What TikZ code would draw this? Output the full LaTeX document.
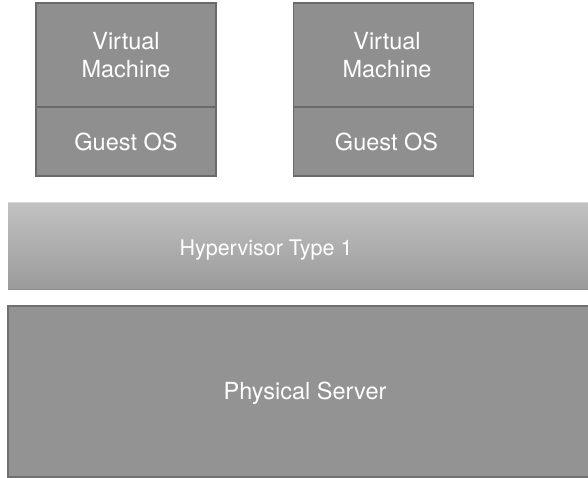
\documentclass[tikz,border=0pt]{standalone}
\usepackage{fontspec}
\setmainfont{TeX Gyre Heros}
\begin{document}
\begin{tikzpicture}[x=1pt,y=-1pt,
  vmpart/.style={draw=vmedge,line width=1.4pt,fill=vmfill,minimum width=180pt,inner sep=0pt,
    text=white,align=center,font=\fontsize{23.5}{28}\selectfont},
  layertext/.style={text=white,inner sep=0pt,font=\fontsize{23.5}{28}\selectfont},
]
\definecolor{vmfill}{HTML}{8F8F8F}
\definecolor{vmedge}{HTML}{6A6A6A}
\definecolor{hvtop}{HTML}{C1C1C1}
\definecolor{hvbot}{HTML}{9B9B9B}
\definecolor{srvfill}{HTML}{939393}
\definecolor{srvedge}{HTML}{707070}
\useasboundingbox[fill=white] (0,0) rectangle (588,478);

% first virtual machine
\node[vmpart,minimum height=104pt] (vm1) at (126,55) {Virtual\\Machine};
\node[vmpart,minimum height=69pt] (os1) at (126,141.5) {Guest OS};

% second virtual machine
\node[vmpart,minimum height=104pt] (vm2) at (383.5,55) {\hspace*{7pt}Virtual\\\hspace*{7pt}Machine};
\node[vmpart,minimum height=69pt] (os2) at (383.5,141.5) {\hspace*{6pt}Guest OS};

% hypervisor layer
\node[draw=none,top color=hvtop,bottom color=hvbot,minimum width=580pt,minimum height=86pt,inner sep=0pt]
  (hv) at (298,246) {};
\draw[white!85!black,line width=1pt] (hv.north west) -- (hv.north east);
\draw[black!45,line width=1.2pt] (hv.south west) -- (hv.south east);
\node[layertext,font=\fontsize{21.5}{26}\selectfont] (hvlabel) at (266,250) {Hypervisor Type 1};

% physical server layer
\node[fill=srvfill,minimum width=580pt,minimum height=171pt,inner sep=0pt] (srv) at (298,391.5) {};
\draw[srvedge,line width=2pt] (srv.north east) -- (srv.north west) -- (srv.south west) -- (srv.south east);
\node[layertext] (srvlabel) at (305,393) {Physical Server};
\end{tikzpicture}
\end{document}
